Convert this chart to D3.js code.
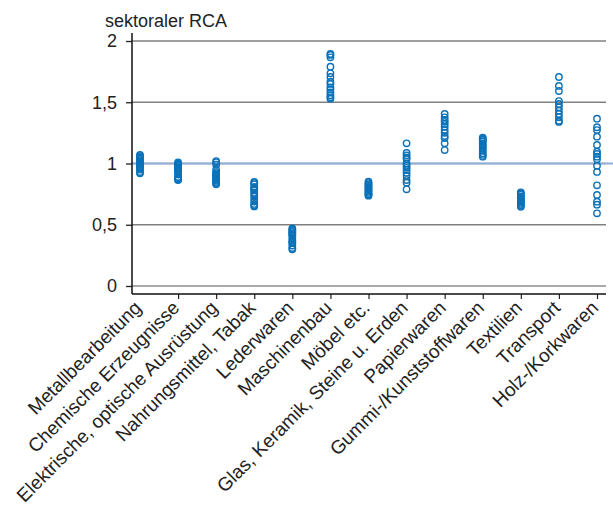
<!DOCTYPE html>
<html><head><meta charset="utf-8">
<script src="https://cdn.jsdelivr.net/npm/d3@7"></script>
<style>body{margin:0;background:#fff}svg{display:block}text{font-family:"Liberation Sans",Arial,Helvetica,sans-serif;fill:#222}</style>
</head><body><svg id="c" width="613" height="508"></svg>
<script>
const categories = ["Metallbearbeitung","Chemische Erzeugnisse","Elektrische, optische Ausrüstung","Nahrungsmittel, Tabak","Lederwaren","Maschinenbau","Möbel etc.","Glas, Keramik, Steine u. Erden","Papierwaren","Gummi-/Kunststoffwaren","Textilien","Transport","Holz-/Korkwaren"];
const metall = [1.07,1.06,1.05,1.04,1.03,1.02,1.01,1.0,0.99,0.98,0.97,0.96,0.95,0.93,0.92];
const chemie = [1.01,1.0,0.99,0.98,0.97,0.96,0.95,0.94,0.93,0.91,0.89,0.88,0.87,0.865];
const elektro = [1.02,1.01,0.99,0.95,0.93,0.92,0.91,0.9,0.89,0.88,0.87,0.86,0.85,0.84,0.83];
const nahrung = [0.85,0.84,0.83,0.81,0.8,0.79,0.78,0.76,0.75,0.73,0.71,0.69,0.67,0.66,0.65];
const leder = [0.47,0.46,0.45,0.44,0.43,0.42,0.41,0.39,0.37,0.36,0.35,0.33,0.31,0.3];
const maschinen = [1.894,1.886,1.867,1.79,1.736,1.706,1.668,1.65,1.622,1.605,1.58,1.557,1.54,1.529];
const moebel = [0.852,0.84,0.83,0.82,0.81,0.8,0.79,0.78,0.77,0.76,0.75,0.745,0.737];
const glas = [1.165,1.086,1.067,1.05,1.037,1.0,0.982,0.965,0.947,0.925,0.9,0.865,0.843,0.789];
const papier = [1.404,1.377,1.355,1.34,1.322,1.3,1.273,1.251,1.224,1.208,1.165,1.11];
const gummi = [1.211,1.2,1.192,1.18,1.165,1.15,1.137,1.12,1.105,1.083,1.07,1.056];
const textil = [0.765,0.755,0.745,0.73,0.72,0.71,0.7,0.69,0.68,0.67,0.66,0.647];
const transport = [1.706,1.633,1.592,1.51,1.486,1.459,1.431,1.404,1.377,1.349,1.339];
const holz = [1.366,1.296,1.273,1.219,1.151,1.096,1.078,1.056,1.034,0.982,0.931,0.822,0.743,0.688,0.664,0.593];
const seriesValues = [metall,chemie,elektro,nahrung,leder,maschinen,moebel,glas,papier,gummi,textil,transport,holz];
const yTicks = [0,0.5,1,1.5,2];
const yTickLabels = ["0","0,5","1","1,5","2"];
const yTitle = "sektoraler RCA";
const refValue = 1;

const svg = d3.select("#c");
const mLeft = 132, mRight = 606, mTop = 33, axisY = 294;
const y = d3.scaleLinear().domain([0,2]).range([286,41]);
const x = d3.scalePoint().domain(categories).range([140,597]);

// gridlines
svg.append("g").selectAll("line").data(yTicks).join("line")
  .attr("x1",mLeft).attr("x2",mRight).attr("y1",d=>y(d)).attr("y2",d=>y(d))
  .attr("stroke",d=>d===0?"#aaa":"#808080").attr("stroke-width",d=>d===0?2:1.3);

// reference line at 1
svg.append("line").attr("x1",mLeft).attr("x2",613).attr("y1",y(refValue)).attr("y2",y(refValue))
  .attr("stroke","#8fb0da").attr("stroke-width",2);

// y axis
const yAxis = d3.axisLeft(y).tickValues(yTicks).tickFormat((d,i)=>yTickLabels[i]).tickSize(6).tickPadding(9);
const gy = svg.append("g").attr("transform",`translate(${mLeft},0)`).call(yAxis);
gy.select(".domain").remove();
gy.selectAll(".tick line").attr("stroke","#222").attr("stroke-width",1.3);
gy.selectAll(".tick text").style("font-size","18px").attr("fill","#222");
svg.append("line").attr("x1",mLeft).attr("x2",mLeft).attr("y1",mTop).attr("y2",axisY).attr("stroke","#111").attr("stroke-width",1.5);

// x axis
const xAxis = d3.axisBottom(x).tickSize(5).tickPadding(4);
const gx = svg.append("g").attr("transform",`translate(0,${axisY})`).call(xAxis);
gx.select(".domain").remove();
gx.selectAll(".tick line").attr("stroke","#222").attr("stroke-width",1.2);
gx.selectAll(".tick").filter((d,i)=>i===0).select("line").remove();
gx.selectAll(".tick text").style("font-size","19px").attr("fill","#222")
  .attr("text-anchor","end").attr("dy","0").attr("y",0)
  .attr("transform","translate(2,15) rotate(-45)");
svg.append("line").attr("x1",mLeft).attr("x2",mRight).attr("y1",axisY).attr("y2",axisY).attr("stroke","#111").attr("stroke-width",1.5);

// title
svg.append("text").attr("x",105).attr("y",27).text(yTitle).style("font-size","18px");

// points
const pts = [];
categories.forEach((c,i)=>seriesValues[i].forEach(v=>pts.push({c,v})));
svg.append("g").selectAll("circle").data(pts).join("circle")
  .attr("cx",d=>x(d.c)).attr("cy",d=>y(d.v)).attr("r",3.2)
  .attr("fill","none").attr("stroke","#0b72b9").attr("stroke-width",1.4);
</script></body></html>
